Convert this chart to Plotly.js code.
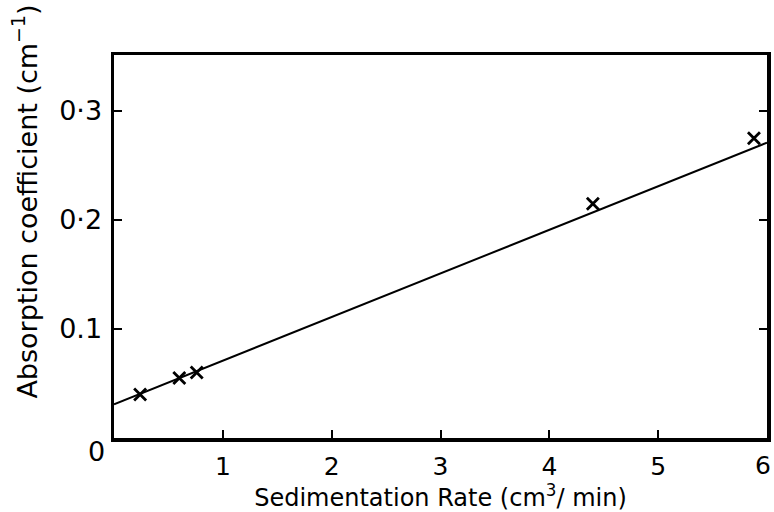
<!DOCTYPE html>
<html>
<head>
<meta charset="utf-8">
<script src="https://cdn.plot.ly/plotly-3.0.1.min.js"></script>
<style>html,body{margin:0;padding:0;background:#fff;}#chart{width:774px;height:512px;}</style>
</head>
<body>
<div id="chart"></div>
<script>
// Measured points (Sedimentation rate, absorption coefficient)
const rateX = [0.24, 0.60, 0.76, 4.40, 5.88];
const absorbY = [0.040, 0.055, 0.060, 0.215, 0.275];
// Fitted straight line drawn across the plot
const fitX = [0, 6];
const fitY = [0.031, 0.271];
// Tick values / labels
const xTickVals = [1, 2, 3, 4, 5];
const xTickText = ["1", "2", "3", "4", "5"];
const xLastTick = 6;
const yTickVals = [0.1, 0.2, 0.3];
const yTickText = ["0.1", "0·2", "0·3"];

const tickFont = {family: "DejaVu Sans, sans-serif", color: "#000", size: 27};
const xTickFont = {family: "DejaVu Sans, sans-serif", color: "#000", size: 25};
const xTitleFont = {family: "DejaVu Sans, sans-serif", color: "#000", size: 24};
const yTitleFont = {family: "DejaVu Sans, sans-serif", color: "#000", size: 27};

const traces = [
  {x: fitX, y: fitY, mode: "lines", line: {color: "#000", width: 2}, hoverinfo: "skip", showlegend: false},
  {x: rateX, y: absorbY, mode: "markers", marker: {symbol: "x-thin", size: 12, color: "#000", line: {color: "#000", width: 2.8}}, showlegend: false}
];

const layout = {
  width: 774, height: 512,
  margin: {l: 114, r: 7, t: 55, b: 74},
  paper_bgcolor: "#fff", plot_bgcolor: "#fff",
  font: tickFont,
  xaxis: {
    range: [0, 6], tickvals: xTickVals, ticktext: xTickText,
    showgrid: false, zeroline: false,
    showline: true, linecolor: "#000", linewidth: 3.5, mirror: true,
    ticks: "inside", ticklen: 8, tickwidth: 2, tickcolor: "#000",
    tickfont: xTickFont, ticklabelstandoff: 3,
    title: {text: "Sedimentation Rate (cm<sup>3</sup>/ min)", font: xTitleFont, standoff: 3}
  },
  yaxis: {
    range: [0, 0.3514], tickvals: yTickVals, ticktext: yTickText,
    showgrid: false, zeroline: false,
    showline: true, linecolor: "#000", linewidth: 3.5, mirror: "ticks",
    ticks: "inside", ticklen: 8, tickwidth: 2, tickcolor: "#000",
    tickfont: tickFont, ticklabelstandoff: 3
  },
  annotations: [
    {text: "0", xref: "paper", yref: "paper", x: -0.027, y: -0.035, xanchor: "center", yanchor: "middle", showarrow: false, font: tickFont},
    {text: String(xLastTick), xref: "x", yref: "paper", x: xLastTick, y: -0.072, xanchor: "center", yanchor: "middle", xshift: -4, showarrow: false, font: xTickFont},
    {text: "Absorption coefficient (cm<sup>−1</sup>)", xref: "paper", yref: "paper", x: -0.137, y: 0.616, xanchor: "center", yanchor: "middle", textangle: -90, showarrow: false, font: yTitleFont}
  ]
};

Plotly.newPlot("chart", traces, layout, {displayModeBar: false, staticPlot: true});
</script>
</body>
</html>
